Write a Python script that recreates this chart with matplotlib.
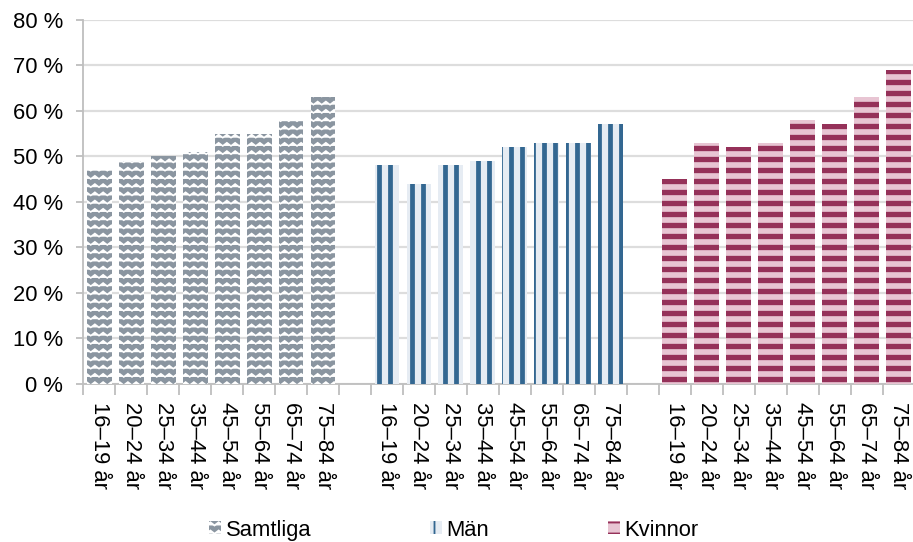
import warnings
import numpy as np
import matplotlib
matplotlib.use("Agg")
import matplotlib.pyplot as plt
from matplotlib import hatch as mhatch
from matplotlib.path import Path
from matplotlib.patches import Patch

warnings.filterwarnings("ignore")

# --- data ---
age_groups = ["16–19 år", "20–24 år", "25–34 år", "35–44 år",
              "45–54 år", "55–64 år", "65–74 år", "75–84 år"]
samtliga = [47, 49, 50, 51, 55, 55, 58, 63]
man = [48, 44, 48, 49, 52, 53, 53, 57]
kvinnor = [45, 53, 52, 53, 58, 57, 63, 69]
series_names = ["Samtliga", "Män", "Kvinnor"]
y_ticks = [0, 10, 20, 30, 40, 50, 60, 70, 80]


# zigzag texture for the "Samtliga" bars (custom hatch char 'z')
class ZigzagHatch(mhatch.HatchPatternBase):
    def __init__(self, hatch, density):
        self.rows = 16 * hatch.count('z')
        self.teeth = 16
        self.per_row = 2 * self.teeth + 1
        self.num_vertices = self.rows * self.per_row

    def set_vertices_and_codes(self, vertices, codes):
        xs = np.linspace(0.0, 1.0, self.per_row)
        amp = np.where(np.arange(self.per_row) % 2 == 0, -0.012, 0.012)
        for i in range(self.rows):
            base = (i + 0.5) / self.rows
            sl = slice(i * self.per_row, (i + 1) * self.per_row)
            vertices[sl, 0] = xs
            vertices[sl, 1] = base + amp
            codes[sl] = Path.LINETO
            codes[i * self.per_row] = Path.MOVETO


mhatch._hatch_types.append(ZigzagHatch)

plt.rcParams['font.family'] = ['Liberation Sans', 'DejaVu Sans']
plt.rcParams['font.size'] = 12

DPI = 132
fig = plt.figure(figsize=(913 / DPI, 542 / DPI), dpi=DPI)
ax = fig.add_axes([0.091, 0.2915, 0.911, 0.672])

n = len(age_groups)
x1 = np.arange(n)
x2 = x1 + n + 1
x3 = x2 + n + 1
width = 0.78

styles = [
    dict(face="#8a95a0", hatch_col="#ffffff", hatch="z", lw=0.9),
    dict(face="#e6ecf3", hatch_col="#336791", hatch="||", lw=2.6),
    dict(face="#e8c5d3", hatch_col="#953159", hatch="--", lw=2.9),
]

handles = []
for xs, vals, st, name in zip([x1, x2, x3], [samtliga, man, kvinnor], styles, series_names):
    bars = ax.bar(xs, vals, width=width, color=st["face"], edgecolor=st["hatch_col"],
                  linewidth=0, hatch=st["hatch"], zorder=3)
    for b in bars:
        if hasattr(b, "set_hatch_linewidth"):
            b.set_hatch_linewidth(st["lw"])
    h = Patch(facecolor=st["face"], edgecolor=st["hatch_col"], linewidth=0,
              hatch=st["hatch"], label=name)
    if hasattr(h, "set_hatch_linewidth"):
        h.set_hatch_linewidth(st["lw"] * 0.7)
    handles.append(h)

total = x3[-1] + 1
ax.set_xlim(-0.5, total - 0.5)
ax.set_ylim(0, 80)
ax.set_yticks(y_ticks)
ax.set_yticklabels([f"{v} %" for v in y_ticks])
ax.yaxis.grid(True, color="#dddddd", linewidth=1.2, zorder=0)
ax.set_axisbelow(True)

ax.set_xticks(np.concatenate([x1, x2, x3]))
ax.set_xticklabels(age_groups * 3, rotation=-90)
ax.set_xticks(np.arange(-0.5, total), minor=True)
ax.tick_params(axis="x", which="major", length=0, pad=10)
ax.tick_params(axis="x", which="minor", length=6, color="#bfbfbf", width=1)
ax.tick_params(axis="y", length=4, color="#bfbfbf", width=1, pad=7)

for side in ["top", "right"]:
    ax.spines[side].set_visible(False)
for side in ["left", "bottom"]:
    ax.spines[side].set_color("#bfbfbf")
    ax.spines[side].set_linewidth(1)

fig.legend(handles=handles, loc="center", bbox_to_anchor=(0.497, 0.022), ncol=3,
           frameon=False, handlelength=0.55, handleheight=0.55, handletextpad=0.2,
           columnspacing=5.4, fontsize=12, borderpad=0.1)

fig.savefig("out.png", dpi=DPI)
